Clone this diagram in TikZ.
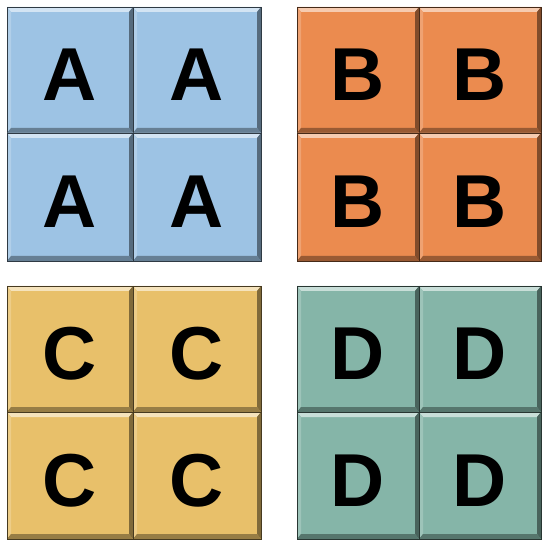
\documentclass[tikz,border=0pt]{standalone}
\usepackage{fontspec}
\setmainfont{Liberation Sans}
\definecolor{TileBlue}{RGB}{157,195,228}
\definecolor{TileOrange}{RGB}{235,139,79}
\definecolor{TileGold}{RGB}{232,192,106}
\definecolor{TileTeal}{RGB}{133,181,168}
\usepackage{tikz}

\tikzset{
  letter/.style={font=\fontsize{75}{75}\selectfont\bfseries, text=black, inner sep=0pt},
}

% #1 name, #2 left, #3 top, #4 right, #5 bottom, #6 colour, #7 letter
\newcommand{\bevtile}[7]{%
  \fill[#6] (#2,-#3) rectangle (#4,-#5);
  \fill[#6!45!white] (#2,-#3) -- (#4,-#3) -- ({#4-4},{-#3-5}) -- ({#2+4},{-#3-5}) -- cycle;
  \fill[#6!80!white] (#2,-#3) -- ({#2+4},{-#3-5}) -- ({#2+4},{-#5+5}) -- (#2,-#5) -- cycle;
  \fill[#6!55!black] (#4,-#3) -- (#4,-#5) -- ({#4-4},{-#5+5}) -- ({#4-4},{-#3-5}) -- cycle;
  \fill[#6!65!black] (#2,-#5) -- (#4,-#5) -- ({#4-4},{-#5+5}) -- ({#2+4},{-#5+5}) -- cycle;
  \draw[#6!30!black, line width=0.9pt] (#2,-#3) rectangle (#4,-#5);
  \node[letter] (#1) at ({(#2+#4)/2},{-(#3+#5)/2-5}) {#7};
}

\begin{document}
\begin{tikzpicture}[x=1pt, y=1pt]
  \useasboundingbox (0,0) rectangle (544,-540);

  \bevtile{a1}{7}{7}{133}{133}{TileBlue}{A}
  \bevtile{a2}{133}{7}{261}{133}{TileBlue}{A}
  \bevtile{a3}{7}{133}{133}{261}{TileBlue}{A}
  \bevtile{a4}{133}{133}{261}{261}{TileBlue}{A}

  \bevtile{b1}{297}{7}{419}{133}{TileOrange}{B}
  \bevtile{b2}{419}{7}{541}{133}{TileOrange}{B}
  \bevtile{b3}{297}{133}{419}{261}{TileOrange}{B}
  \bevtile{b4}{419}{133}{541}{261}{TileOrange}{B}

  \bevtile{c1}{7}{286}{133}{412}{TileGold}{C}
  \bevtile{c2}{133}{286}{261}{412}{TileGold}{C}
  \bevtile{c3}{7}{412}{133}{539}{TileGold}{C}
  \bevtile{c4}{133}{412}{261}{539}{TileGold}{C}

  \bevtile{d1}{297}{286}{419}{412}{TileTeal}{D}
  \bevtile{d2}{419}{286}{541}{412}{TileTeal}{D}
  \bevtile{d3}{297}{412}{419}{539}{TileTeal}{D}
  \bevtile{d4}{419}{412}{541}{539}{TileTeal}{D}
\end{tikzpicture}
\end{document}
